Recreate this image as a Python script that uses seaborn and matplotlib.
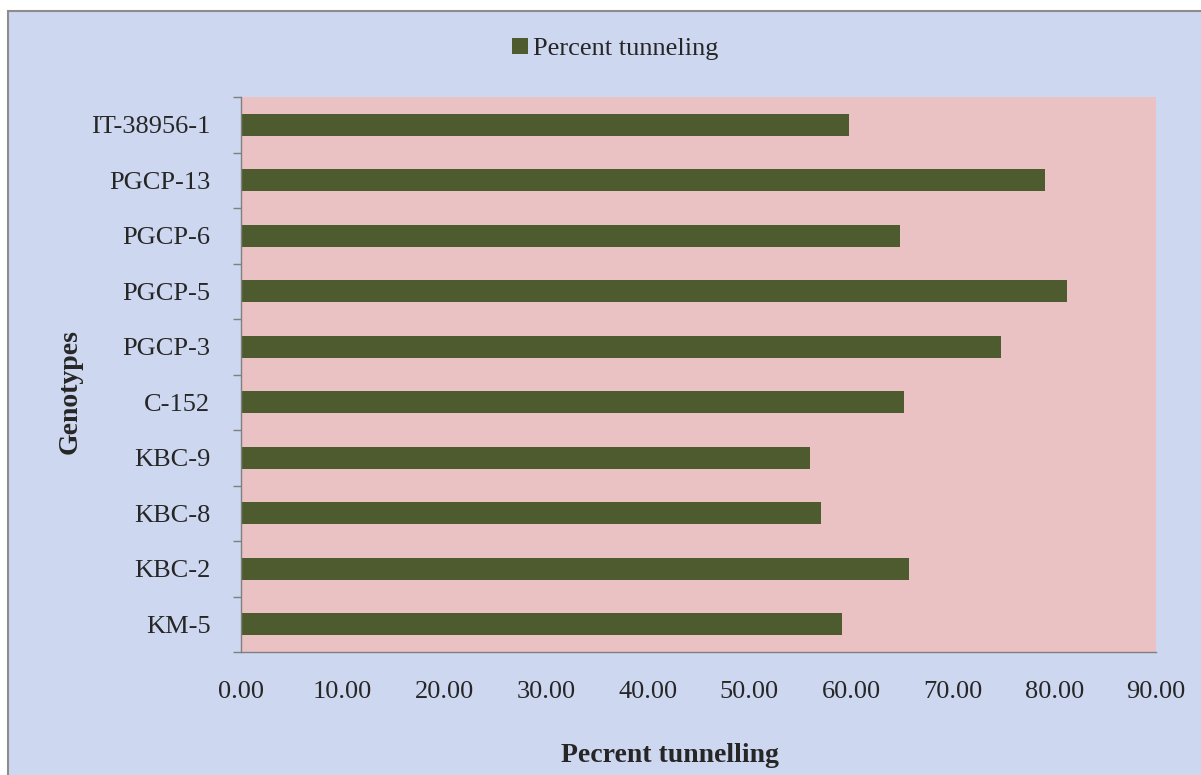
import pandas as pd
import seaborn as sns
import matplotlib.pyplot as plt
from matplotlib.patches import Rectangle
from matplotlib.ticker import MultipleLocator, FixedLocator

# Data (top to bottom)
genotypes = ["IT-38956-1", "PGCP-13", "PGCP-6", "PGCP-5", "PGCP-3",
             "C-152", "KBC-9", "KBC-8", "KBC-2", "KM-5"]
tunneling = [59.8, 79.1, 64.8, 81.2, 74.8, 65.2, 56.0, 57.0, 65.7, 59.1]
series_name = "Percent tunneling"
x_ticks = [0, 10, 20, 30, 40, 50, 60, 70, 80, 90]

df = pd.DataFrame({"genotype": genotypes, "value": tunneling, "series": series_name})

sns.set_theme(style="white")
plt.rcParams['font.family'] = ['Liberation Serif', 'DejaVu Serif']

bar_color = "#4F6228"
fig_bg = "#CDD7EF"
plot_bg = "#EBC2C4"
fs = 19

fig = plt.figure(figsize=(12.01, 7.75), dpi=100)
fig.patch.set_facecolor("white")
# chart frame (blue area with grey border)
fig.patches.append(Rectangle((8 / 1201, -0.05), 1.1, 1 - 11 / 775 + 0.05,
                             transform=fig.transFigure, facecolor=fig_bg,
                             edgecolor="#8C8C8C", linewidth=1.5, zorder=-10))

ax = fig.add_axes([241 / 1201, 1 - 652 / 775, 915 / 1201, (652 - 97) / 775])
ax.set_facecolor(plot_bg)

sns.barplot(data=df, x="value", y="genotype", hue="series", order=genotypes,
            palette={series_name: bar_color}, orient="h", width=0.4,
            edgecolor="none", ax=ax)

ax.set_xlim(0, 90)
ax.set_ylim(len(genotypes) - 0.5, -0.5)
ax.xaxis.set_major_locator(FixedLocator(x_ticks))
ax.set_xticklabels([f"{t:.2f}" for t in x_ticks])
ax.yaxis.set_minor_locator(MultipleLocator(1, offset=0.5))

for side in ["top", "right"]:
    ax.spines[side].set_visible(False)
for side in ["left", "bottom"]:
    ax.spines[side].set_color("#7F7F7F")
    ax.spines[side].set_linewidth(1.0)

ax.tick_params(axis="x", which="major", direction="out", length=7, width=1,
               color="#7F7F7F", labelsize=fs, pad=14)
ax.tick_params(axis="y", which="major", length=0, labelsize=fs, pad=22)
ax.tick_params(axis="y", which="minor", direction="out", length=6, width=1,
               color="#7F7F7F", left=True)

ax.set_xlabel("Pecrent tunnelling", fontsize=20, fontweight="bold", va="center")
ax.set_ylabel("Genotypes", fontsize=20, fontweight="bold", va="center")
ax.yaxis.set_label_coords((70 - 241) / 915, (652 - 392) / 555)
ax.xaxis.set_label_coords((670 - 241) / 915, (652 - 755) / 555)

handles, labels = ax.get_legend_handles_labels()
ax.get_legend().remove()
fig.legend(handles, labels, loc="center", bbox_to_anchor=(615 / 1201, 1 - 49 / 775),
           frameon=False, fontsize=fs, handlelength=0.6, handleheight=0.6,
           handletextpad=0.2)

plt.savefig("out.png", dpi=100, facecolor=fig.get_facecolor())
plt.close()
